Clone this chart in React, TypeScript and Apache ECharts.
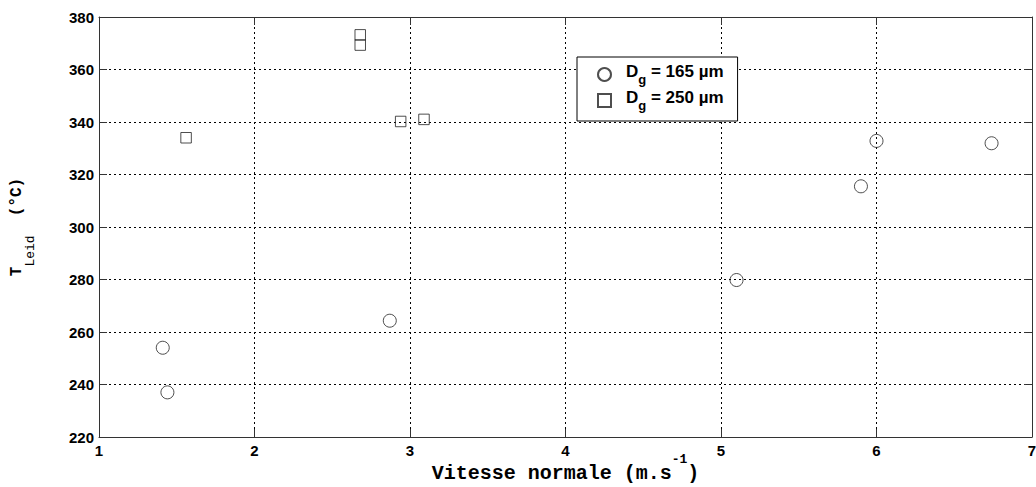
import React, { useEffect, useRef } from 'react';
import * as echarts from 'echarts';

// Dg = 165 µm (circles): [vitesse normale, T_Leid]
const circleData: number[][] = [
  [1.41, 254],
  [1.44, 237],
  [2.87, 264.3],
  [5.1, 279.8],
  [5.9, 315.5],
  [6.0, 332.8],
  [6.74, 331.9],
];
// Dg = 250 µm (squares)
const squareData: number[][] = [
  [1.56, 334],
  [2.68, 373.2],
  [2.68, 369.3],
  [2.94, 340.2],
  [3.09, 341],
];

const seriesNames = ['Dg = 165 µm', 'Dg = 250 µm'];
const legendValues = ['165', '250'];

const xMin = 1, xMax = 7, xStep = 1;
const yMin = 220, yMax = 380, yStep = 20;

const AXIS_COLOR = '#333';
const SANS = 'Liberation Sans, Arial, Helvetica, sans-serif';
const MONO = 'Liberation Mono, Courier New, monospace';

export default function App() {
  const ref = useRef<HTMLDivElement>(null);
  useEffect(() => {
    const chart = echarts.init(ref.current!, null, { renderer: 'svg', width: 1036, height: 487 });
    const gridLine = { show: true, lineStyle: { color: '#000', type: [2, 3], width: 1 } };
    const axisLine = { show: true, onZero: false, lineStyle: { color: AXIS_COLOR, width: 1 } };
    const axisTick = { show: true, inside: true, length: 8, lineStyle: { color: AXIS_COLOR, width: 1 } };
    const tickLabel = { color: '#000', fontFamily: SANS, fontWeight: 'bold', fontSize: 15 };
    chart.setOption({
      animation: false,
      backgroundColor: '#fff',
      grid: { left: 99, right: 4, top: 17, bottom: 50, containLabel: false, outerBoundsMode: 'none' },
      xAxis: [
        {
          type: 'value', min: xMin, max: xMax, interval: xStep, position: 'bottom',
          axisLine, axisTick, splitLine: gridLine,
          axisLabel: { ...tickLabel, margin: 6 },
          name: '{b|Vitesse normale (m.s}{sup|-1}{b|)}',
          nameLocation: 'middle', nameGap: 23, nameMoveOverlap: false,
          nameTextStyle: {
            rich: {
              b: { fontFamily: MONO, fontWeight: 'bold', fontSize: 20, color: '#000', lineHeight: 20, padding: [6, 0, 0, 0] },
              sup: { fontFamily: MONO, fontWeight: 'bold', fontSize: 13, color: '#000', lineHeight: 13, padding: [0, 0, 22, 0] },
            },
          },
        },
        {
          type: 'value', min: xMin, max: xMax, interval: xStep, position: 'top',
          axisLine, axisTick, splitLine: { show: false }, axisLabel: { show: false },
        },
      ],
      yAxis: [
        {
          type: 'value', min: yMin, max: yMax, interval: yStep, position: 'left',
          axisLine, axisTick, splitLine: gridLine,
          axisLabel: { ...tickLabel, margin: 5 },
          name: '{b|T}{sub|Leid}{b|  (°C)}',
          nameLocation: 'middle', nameRotate: 90, nameGap: 68, nameMoveOverlap: false,
          nameTextStyle: {
            rich: {
              b: { fontFamily: MONO, fontWeight: 'bold', fontSize: 16, color: '#000', lineHeight: 16, padding: [0, 0, 12, 0] },
              sub: { fontFamily: MONO, fontWeight: 'normal', fontSize: 13, color: '#000', lineHeight: 14, padding: [14, 0, 0, 0] },
            },
          },
        },
        {
          type: 'value', min: yMin, max: yMax, interval: yStep, position: 'right',
          axisLine, axisTick, splitLine: { show: false }, axisLabel: { show: false },
        },
      ],
      legend: {
        show: true,
        orient: 'vertical',
        left: 577,
        top: 57,
        padding: [6, 14, 9, 20],
        itemGap: 3,
        itemWidth: 13,
        itemHeight: 13,
        backgroundColor: '#fff',
        borderColor: '#000',
        borderWidth: 1,
        borderRadius: 0,
        data: seriesNames,
        formatter: (name: string) => {
          const i = seriesNames.indexOf(name);
          return `{b|D}{s|g}{b| = ${legendValues[i]} µm}`;
        },
        textStyle: {
          padding: [0, 0, 0, 10],
          rich: {
            b: { fontFamily: SANS, fontWeight: 'bold', fontSize: 17, color: '#000', lineHeight: 20, padding: [0, 0, 6, 0] },
            s: { fontFamily: SANS, fontWeight: 'bold', fontSize: 13, color: '#000', lineHeight: 16, padding: [10, 0, 0, 0] },
          },
        },
      },
      series: [
        {
          name: seriesNames[0], type: 'scatter', symbol: 'circle', symbolSize: 13,
          xAxisIndex: 0, yAxisIndex: 0,
          itemStyle: { color: 'rgba(0,0,0,0)', borderColor: '#222', borderWidth: 1 },
          data: circleData,
        },
        {
          name: seriesNames[1], type: 'scatter', symbol: 'rect', symbolSize: 10.5,
          xAxisIndex: 0, yAxisIndex: 0,
          itemStyle: { color: 'rgba(0,0,0,0)', borderColor: '#222', borderWidth: 1 },
          data: squareData,
        },
      ],
    });
    return () => chart.dispose();
  }, []);
  return (
    <div
      ref={ref}
      style={{ position: 'fixed', left: 0, top: 0, width: 1036, height: 487, background: '#fff' }}
    />
  );
}
